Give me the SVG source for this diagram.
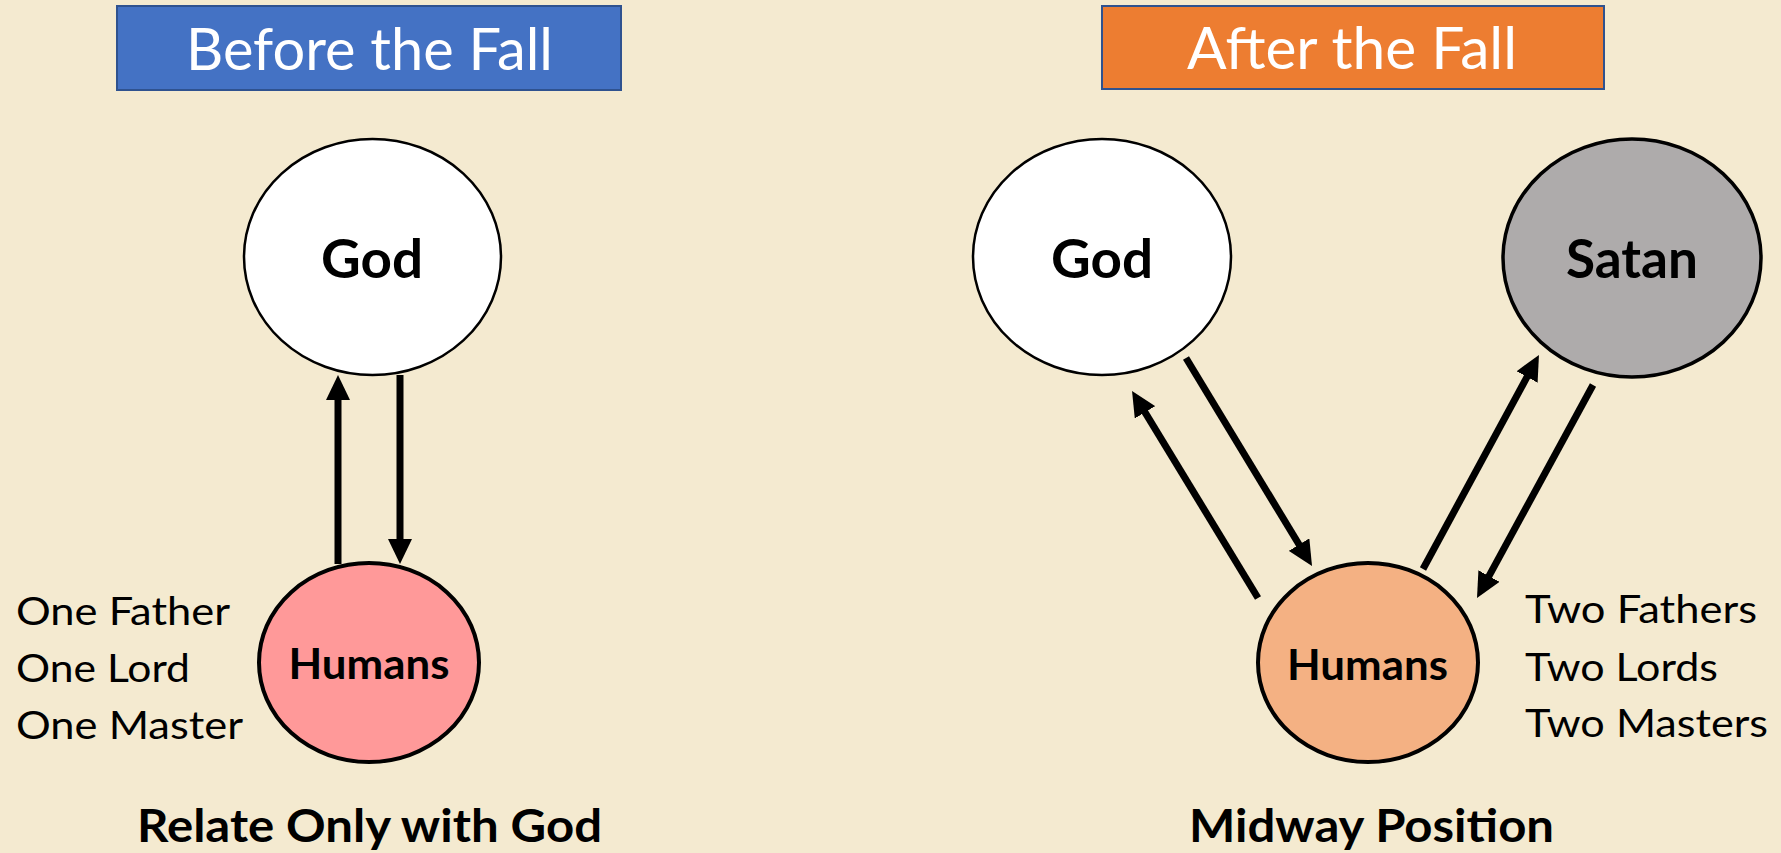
<svg xmlns="http://www.w3.org/2000/svg" width="1781" height="853" viewBox="0 0 1781 853">
  <style>
    .title { font-family: Lato, "Open Sans", "Liberation Sans", sans-serif; font-size: 59px; fill: #FFFFFF; text-anchor: middle; }
    .node { font-family: Lato, "Open Sans", "Liberation Sans", sans-serif; font-weight: bold; fill: #000000; text-anchor: middle; }
    .big { font-size: 53px; }
    .mid { font-size: 42px; }
    .label { font-family: Lato, "Open Sans", "Liberation Sans", sans-serif; font-size: 39px; fill: #000000; }
    .caption { font-family: Lato, "Open Sans", "Liberation Sans", sans-serif; font-size: 46px; font-weight: bold; fill: #000000; }
    .conn { stroke: #000000; stroke-width: 7; fill: none; marker-end: url(#head); }
  </style>
  <defs>
    <marker id="head" markerUnits="userSpaceOnUse" viewBox="0 0 25 24" markerWidth="25" markerHeight="24" refX="2" refY="12" orient="auto">
      <path d="M0,0 L25,12 L0,24 Z" fill="#000000"/>
    </marker>
  </defs>
  <rect x="0" y="0" width="1781" height="853" fill="#F4EAD0"/>

  <g id="title-before">
    <rect x="117" y="6" width="504" height="84" fill="#4472C4" stroke="#2F528F" stroke-width="2"/>
    <text class="title" x="369.5" y="70" textLength="367" lengthAdjust="spacingAndGlyphs">Before the Fall</text>
  </g>
  <g id="title-after">
    <rect x="1102" y="6" width="502" height="83" fill="#ED7D31" stroke="#2F528F" stroke-width="2"/>
    <text class="title" x="1352" y="69" textLength="330" lengthAdjust="spacingAndGlyphs">After the Fall</text>
  </g>

  <g id="connectors">
    <line class="conn" x1="338" y1="564" x2="338" y2="398"/>
    <line class="conn" x1="400" y1="375" x2="400" y2="541"/>
    <line class="conn" x1="1186" y1="358" x2="1300.1" y2="546.3"/>
    <line class="conn" x1="1258" y1="598" x2="1144" y2="410.6"/>
    <line class="conn" x1="1423" y1="569" x2="1528" y2="375.2"/>
    <line class="conn" x1="1593" y1="385" x2="1488" y2="577.8"/>
  </g>

  <g id="god-before">
    <ellipse cx="372.5" cy="257" rx="128.5" ry="118" fill="#FFFFFF" stroke="#000000" stroke-width="2.5"/>
    <text class="node big" x="372" y="278" textLength="102" lengthAdjust="spacingAndGlyphs">God</text>
  </g>
  <g id="humans-before">
    <ellipse cx="369" cy="662.5" rx="110" ry="99.5" fill="#FF9999" stroke="#000000" stroke-width="4"/>
    <text class="node mid" x="369" y="679" textLength="161" lengthAdjust="spacingAndGlyphs">Humans</text>
  </g>
  <g id="god-after">
    <ellipse cx="1102" cy="257" rx="129" ry="118" fill="#FFFFFF" stroke="#000000" stroke-width="2.5"/>
    <text class="node big" x="1102" y="278" textLength="102" lengthAdjust="spacingAndGlyphs">God</text>
  </g>
  <g id="satan">
    <ellipse cx="1632" cy="258" rx="129" ry="119" fill="#AEABAB" stroke="#000000" stroke-width="3.5"/>
    <text class="node big" x="1632" y="278" textLength="132" lengthAdjust="spacingAndGlyphs">Satan</text>
  </g>
  <g id="humans-after">
    <ellipse cx="1368" cy="662.5" rx="110" ry="99.5" fill="#F4B183" stroke="#000000" stroke-width="4"/>
    <text class="node mid" x="1367.5" y="680" textLength="161" lengthAdjust="spacingAndGlyphs">Humans</text>
  </g>

  <g id="labels-before">
    <text class="label" x="16" y="625" textLength="214" lengthAdjust="spacingAndGlyphs">One Father</text>
    <text class="label" x="16" y="682" textLength="174" lengthAdjust="spacingAndGlyphs">One Lord</text>
    <text class="label" x="16" y="739" textLength="227" lengthAdjust="spacingAndGlyphs">One Master</text>
  </g>
  <g id="labels-after">
    <text class="label" x="1525" y="623" textLength="232" lengthAdjust="spacingAndGlyphs">Two Fathers</text>
    <text class="label" x="1525" y="681" textLength="193" lengthAdjust="spacingAndGlyphs">Two Lords</text>
    <text class="label" x="1525" y="737" textLength="243" lengthAdjust="spacingAndGlyphs">Two Masters</text>
  </g>

  <g id="caption-before">
    <text class="caption" x="137" y="842" textLength="465" lengthAdjust="spacingAndGlyphs">Relate Only with God</text>
  </g>
  <g id="caption-after">
    <text class="caption" x="1189" y="842" textLength="365" lengthAdjust="spacingAndGlyphs">Midway Position</text>
  </g>
</svg>
